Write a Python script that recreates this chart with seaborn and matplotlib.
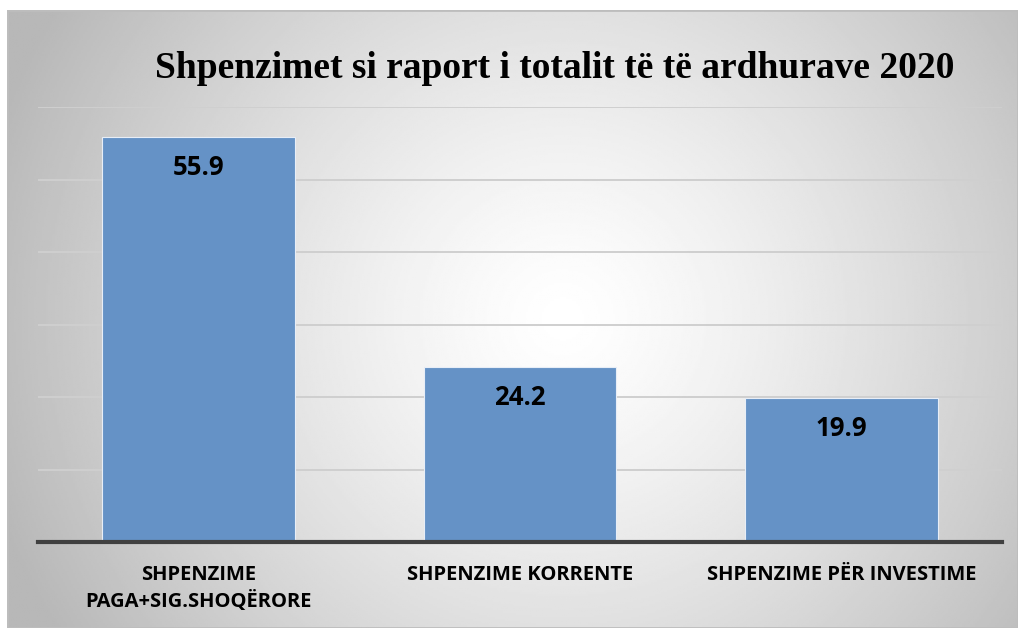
import matplotlib.pyplot as plt
import seaborn as sns
import numpy as np
from matplotlib.patches import Rectangle

# data
categories = ['SHPENZIME\nPAGA+SIG.SHOQËRORE', 'SHPENZIME KORRENTE', 'SHPENZIME PËR INVESTIME']
values = [55.9, 24.2, 19.9]
title = 'Shpenzimet si raport i totalit të të ardhurave 2020'

sns.set_style('white')
plt.rcParams['font.family'] = ['Open Sans', 'DejaVu Sans']
plt.rcParams['text.color'] = 'black'
plt.rcParams['xtick.color'] = 'black'

W, H = 1018, 628
fig = plt.figure(figsize=(W / 100, H / 100), dpi=100)
fig.patch.set_facecolor('white')

# radial grey gradient behind the chart
bg = fig.add_axes([7 / W, 0, 1011 / W, 618 / H], zorder=0)
yy, xx = np.mgrid[0:1:300j, 0:1:500j]
r = np.sqrt(((xx - 0.55) * 1.6) ** 2 + (yy - 0.5) ** 2)
shade = 1.0 - 0.28 * np.clip(r / 0.95, 0, 1) ** 1.3
bg.imshow(shade, cmap='gray', vmin=0, vmax=1, aspect='auto', extent=(0, 1, 0, 1))
bg.add_patch(Rectangle((0, 0), 1, 1, fill=False, edgecolor='#bdbdbd', lw=2,
                       transform=bg.transAxes))
bg.set_axis_off()

ax = fig.add_axes([38 / W, (H - 542) / H, 964 / W, 435 / H], zorder=1)
ax.set_facecolor('none')

sns.barplot(x=categories, y=values, color='#6592c6', width=0.6, saturation=1,
            edgecolor='#e8eef7', linewidth=0.8, ax=ax, zorder=3)

ax.set_ylim(0, 60)
ax.set_xlim(-0.5, 2.5)
ax.set_yticks(range(10, 70, 10))
ax.yaxis.grid(True, color='#cfcfcf', lw=1.4, zorder=0)
ax.set_axisbelow(True)
ax.tick_params(axis='y', left=False, labelleft=False)
ax.tick_params(axis='x', bottom=False, pad=13)
for lab in ax.get_xticklabels():
    lab.set_fontsize(14.5)
    lab.set_fontweight('bold')
    lab.set_linespacing(1.4)
    lab.set_va('top')
for s in ['top', 'right', 'left']:
    ax.spines[s].set_visible(False)
ax.spines['bottom'].set_color('#404040')
ax.spines['bottom'].set_linewidth(3)
ax.spines['bottom'].set_zorder(5)
ax.set_xlabel('')
ax.set_ylabel('')

for i, v in enumerate(values):
    ax.annotate(f'{v}', (i, v), xytext=(0, -31), textcoords='offset pixels',
                ha='center', va='center', fontsize=18.5, fontweight='bold',
                color='black', zorder=6)

fig.text(555 / W, 1 - 68 / H, title, ha='center', va='center', color='black',
         fontsize=27, fontweight='bold', family=['Liberation Serif', 'DejaVu Serif'])

fig.savefig('out.png', dpi=100)
